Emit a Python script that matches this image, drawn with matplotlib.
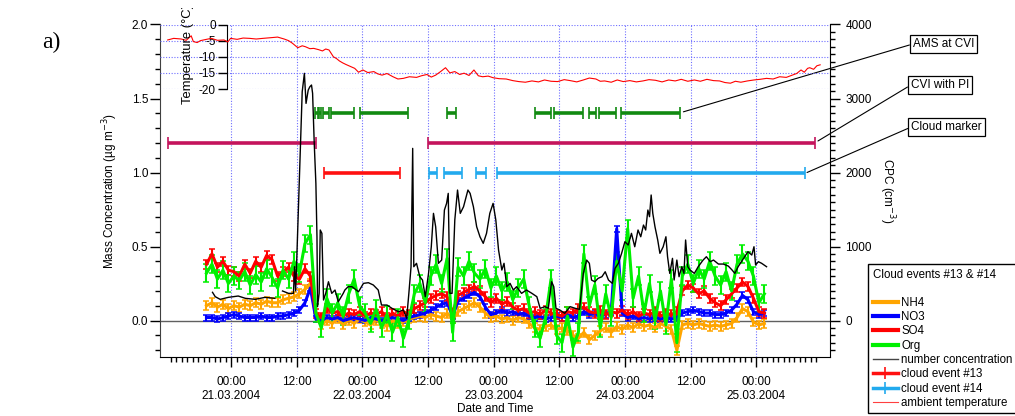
import numpy as np
import pandas as pd
import matplotlib
matplotlib.use("Agg")
import matplotlib.pyplot as plt
import matplotlib.dates as mdates
from matplotlib.lines import Line2D
from matplotlib.ticker import FixedLocator, MultipleLocator, FuncFormatter
from matplotlib.transforms import Bbox, TransformedBbox

plt.rcParams['font.family'] = ['Liberation Sans', 'DejaVu Sans']
plt.rcParams['axes.unicode_minus'] = False

# ---------------- data ----------------
T0 = pd.Timestamp('2004-03-21 00:00')      # reference time (hours are counted from here)
ams_first_hour = -4.5                       # first AMS sample (20.03.2004 19:30), hourly samples

org = [0.32, 0.38, 0.28, 0.34, 0.25, 0.30, 0.27, 0.33, 0.24, 0.31,
       0.26, 0.35, 0.29, 0.22, 0.34, 0.28, 0.40, 0.32, 0.52, 0.58,
       0.05, -0.05, 0.15, 0.05, 0.12, 0.03, 0.18, 0.28, 0.10, 0.05,
       -0.02, 0.08, -0.05, 0.04, -0.08, 0.02, -0.12, 0.00, 0.18, 0.25,
       0.12, 0.30, 0.38, 0.25, 0.42, -0.08, 0.36, 0.30, 0.40, 0.32,
       0.28, 0.35, 0.22, 0.30, 0.20, 0.26, 0.14, 0.22, 0.28, 0.10,
       -0.05, -0.12, 0.02, 0.28, -0.10, -0.15, 0.03, -0.18, -0.08, 0.45,
       0.10, 0.24, -0.05, 0.18, 0.02, 0.40, 0.20, 0.62, 0.15, 0.30,
       0.05, 0.25, 0.00, 0.20, -0.03, 0.28, -0.15, 0.30, 0.38, 0.25,
       0.35, 0.28, 0.40, 0.30, 0.24, 0.33, 0.20, 0.38, 0.45, 0.40,
       0.30, 0.12, 0.18]
so4 = [0.38, 0.45, 0.36, 0.40, 0.34, 0.33, 0.30, 0.38, 0.32, 0.40,
       0.36, 0.44, 0.41, 0.30, 0.33, 0.36, 0.30, 0.28, 0.35, 0.30,
       0.05, 0.02, 0.08, 0.05, 0.06, 0.03, 0.05, 0.04, 0.06, 0.03,
       0.05, 0.04, 0.06, 0.02, 0.05, 0.03, 0.06, 0.04, 0.08, 0.10,
       0.12, 0.15, 0.17, 0.18, 0.16, 0.05, 0.17, 0.19, 0.21, 0.23,
       0.20, 0.16, 0.12, 0.15, 0.11, 0.13, 0.09, 0.07, 0.08, 0.05,
       0.06, 0.04, 0.07, 0.05, 0.04, 0.03, 0.06, 0.05, 0.08, 0.09,
       0.06, 0.05, 0.07, 0.04, 0.06, 0.05, 0.07, 0.04, 0.06, 0.03,
       0.05, 0.04, 0.06, 0.03, 0.05, 0.04, 0.06, 0.20, 0.24, 0.22,
       0.18, 0.20, 0.15, 0.12, 0.10, 0.14, 0.18, 0.22, 0.26, 0.23,
       0.15, 0.06, 0.05]
nh4 = [0.10, 0.12, 0.09, 0.11, 0.08, 0.10, 0.09, 0.11, 0.10, 0.12,
       0.11, 0.13, 0.12, 0.12, 0.14, 0.15, 0.16, 0.18, 0.21, 0.25,
       0.02, -0.03, 0.00, -0.02, 0.01, -0.03, 0.00, -0.02, 0.01, -0.01,
       -0.03, 0.00, -0.02, -0.04, 0.00, -0.02, -0.01, 0.01, 0.02, 0.03,
       0.02, 0.04, 0.03, 0.02, 0.05, 0.01, 0.06, 0.08, 0.10, 0.12,
       0.09, 0.05, 0.02, 0.03, 0.01, 0.02, 0.00, 0.02, 0.01, -0.02,
       -0.05, -0.06, -0.04, -0.03, -0.06, -0.05, -0.07, -0.10, -0.12, -0.08,
       -0.13, -0.10, -0.07, -0.05, -0.08, -0.04, -0.06, -0.03, -0.05, -0.02,
       -0.04, -0.03, -0.05, -0.02, -0.04, -0.06, -0.20, -0.03, -0.02, -0.03,
       -0.02, -0.03, -0.04, -0.03, -0.04, -0.03, -0.02, 0.02, 0.08, 0.06,
       -0.01, -0.03, -0.02]
no3 = [0.02, 0.02, 0.01, 0.02, 0.03, 0.04, 0.03, 0.02, 0.02, 0.02,
       0.03, 0.02, 0.02, 0.03, 0.03, 0.04, 0.05, 0.07, 0.12, 0.22,
       0.01, 0.00, 0.02, 0.01, 0.02, 0.00, 0.01, 0.02, 0.01, 0.00,
       0.02, 0.01, 0.00, 0.01, 0.02, 0.01, 0.00, 0.02, 0.03, 0.04,
       0.05, 0.07, 0.09, 0.11, 0.12, 0.03, 0.13, 0.15, 0.17, 0.19,
       0.16, 0.09, 0.04, 0.05, 0.07, 0.05, 0.06, 0.04, 0.05, 0.03,
       0.02, 0.03, 0.01, 0.02, 0.03, 0.02, 0.04, 0.02, 0.03, 0.06,
       0.04, 0.05, 0.03, 0.04, 0.06, 0.62, 0.05, 0.02, 0.03, 0.01,
       0.02, 0.01, 0.02, 0.01, 0.02, 0.01, 0.02, 0.05, 0.06, 0.07,
       0.06, 0.05, 0.05, 0.04, 0.04, 0.05, 0.07, 0.11, 0.17, 0.14,
       0.06, 0.04, 0.05]
err_org, err_so4, err_nh4, err_no3 = 0.06, 0.03, 0.03, 0.02

cpc_hours = [-3.4, -2.9, -2.0, -0.5, 1.3, 2.6, 4.4, 6.2, 8.0, 8.7, 9.4, 10.5, 11.4, 11.6,
             11.8, 12.0, 12.6, 13.0, 13.4, 13.7, 14.1, 14.4, 14.7, 14.9, 15.2, 15.5, 15.7,
             15.8, 16.1, 16.3, 16.6, 16.9, 17.3, 17.8, 18.4, 19.0, 19.6, 20.5, 20.8, 21.4,
             22.1, 23.3, 24.2, 25.1, 26.0, 26.9, 27.5, 28.5, 29.4, 30.6, 31.5, 32.1, 32.5,
             32.9, 33.2, 33.4, 33.9, 34.5, 35.0, 35.5, 36.1, 36.6, 37.0, 37.4, 37.9, 38.5,
             39.0, 39.4, 39.7, 40.0, 40.4, 40.9, 41.4, 41.9, 42.5, 43.3, 43.7, 44.3, 44.9,
             45.5, 46.1, 46.7, 47.3, 47.9, 48.4, 48.9, 49.5, 49.9, 50.4, 51.0, 51.6, 52.2,
             53.1, 54.0, 55.0, 55.9, 56.5, 57.4, 58.0, 58.6, 59.0, 59.4, 60.1, 61.0, 62.0,
             62.9, 63.7, 64.4, 65.0, 65.5, 65.9, 66.5, 67.1, 67.8, 68.4, 69.0, 69.7, 70.2,
             70.8, 71.4, 72.0, 72.6, 73.2, 73.8, 74.4, 74.9, 75.4, 75.8, 76.2, 76.5, 76.8,
             77.1, 77.5, 78.0, 78.4, 79.0, 79.5, 79.8, 80.2, 80.7, 81.0, 81.5, 81.9, 82.4,
             82.8, 83.1, 83.5, 83.9, 84.7, 85.4, 86.3, 86.9, 87.6, 88.2, 89.1, 90.0, 90.9,
             91.6, 92.1, 92.7, 93.3, 93.9, 94.5, 95.2, 95.6, 95.9, 96.4, 97.0, 97.9]
cpc_values = [381, 322, 286, 313, 331, 300, 286, 313, 300, np.nan, 399, 367, 367, 727,
              400, 817, 2168, 3091, 3340, 2934, 3114, 3159, 3182, 3070, 2394, 1854, 1132,
              187, 367, 1223, 1178, 277, 367, 524, 367, 412, 254, 367, 412, 457,
              457, 389, 502, 511, 480, 412, 209, 209, 165, 119, 142, 30, 367,
              727, 2326, 727, 773, 592, 547, 322, 637, 997, 1448, 1267, 773, 817,
              1493, 1583, 1718, 367, 367, 1358, 1763, 1448, 1538, 1763, 1718, 1538, 1267,
              1132, 1043, 1178, 1448, 1583, 1358, 952, 682, 773, 457, 502, 412, 457,
              367, 412, 367, 322, 165, 187, 165, 524, 457, 165, 142, 97, 187,
              165, 151, 637, 817, 773, 547, 524, 570, 592, 659, 547, 502, 705,
              773, 908, 1065, 1020, 1178, 997, 1223, 1132, 1290, 1223, 1493, 1403, 1696,
              1448, 1267, 1088, 908, 997, 1132, 862, 637, 840, 547, 817, 592, 727,
              637, 1088, 727, 682, 637, 727, 817, 862, 795, 817, 763, 763, 736,
              682, 637, 727, 795, 862, 930, 885, 997, 750, 795, 773, 727]

temp_hours = [-11.6, -10.5, -9.1, -8.2, -7.3, -6.9, -6.2, -5.6, -4.5, -3.6, -2.5, -1.3, -0.6,
              -0.1, 1.1, 2.2, 3.4, 4.6, 5.8, 7.2, 8.5, 9.7, 10.5, 11.2, 12.2, 13.0, 13.6,
              14.4, 15.1, 16.0, 16.7, 17.3, 17.9, 18.7, 19.3, 19.8, 20.4, 21.0, 21.8, 22.6,
              23.3, 24.1, 25.0, 26.1, 26.8, 27.6, 28.5, 29.6, 30.5, 31.5, 32.6, 33.9, 34.8,
              35.8, 36.6, 37.4, 38.3, 39.2, 40.0, 40.9, 41.8, 42.6, 43.5, 44.4, 45.2, 46.0,
              47.0, 47.9, 49.0, 50.3, 51.5, 52.6, 53.8, 55.0, 56.2, 57.3, 58.5, 59.7, 60.9,
              62.0, 63.2, 64.4, 65.5, 66.7, 67.5, 68.3, 69.5, 70.6, 71.7, 72.9, 74.1, 75.3,
              76.4, 77.6, 78.8, 80.0, 81.2, 82.3, 83.5, 84.7, 85.8, 87.0, 88.2, 89.3, 90.3,
              91.3, 92.2, 93.2, 94.4, 95.6, 96.7, 97.9, 99.1, 100.3, 101.5, 102.6, 103.4,
              104.2, 104.8, 105.4, 105.8, 106.5, 107.1, 107.7]
temp_values = [-4.8, -4.3, -4.5, -4.9, -3.5, -5.3, -5.6, -5.0, -4.6, -4.3, -4.9, -4.8, -5.4,
               -4.3, -4.6, -4.2, -4.3, -4.5, -4.3, -4.1, -3.9, -4.5, -5.0, -5.8, -7.2, -6.6, -6.9,
               -7.5, -7.4, -7.8, -8.2, -7.6, -7.9, -10.0, -10.6, -11.3, -11.9, -12.4, -13.0, -13.6,
               -14.8, -14.1, -14.9, -14.6, -15.3, -15.7, -15.2, -16.2, -16.9, -16.7, -16.2, -16.4, -15.9,
               -15.5, -16.3, -15.7, -14.6, -13.4, -15.0, -14.6, -15.5, -15.1, -15.8, -14.1, -15.9, -16.2,
               -16.0, -16.5, -16.8, -16.9, -17.4, -17.7, -17.9, -17.5, -17.8, -17.2, -17.6, -17.7, -17.1,
               -17.4, -17.8, -17.2, -16.6, -16.9, -17.6, -17.5, -17.9, -17.2, -17.7, -17.4, -17.8, -17.5,
               -17.1, -17.3, -17.8, -17.2, -17.5, -17.0, -17.6, -17.2, -17.6, -17.0, -17.4, -17.5, -18.0,
               -18.2, -17.6, -17.9, -17.5, -17.2, -17.0, -16.7, -16.9, -16.2, -16.4, -15.7, -15.2,
               -14.1, -14.8, -13.6, -13.4, -13.9, -12.8, -12.5]

# periods (start hour, end hour) and the level at which they are marked
ams_cvi_periods = [(15.3, 15.8), (16.1, 16.5), (16.8, 17.9), (18.3, 22.4), (23.6, 32.3),
                   (39.5, 41.1), (55.6, 58.5), (59.0, 64.3), (65.4, 66.7), (67.3, 70.4),
                   (71.2, 82.1)]
ams_cvi_level = 1.4
cvi_pi_periods = [(-11.5, 15.5), (36.0, 106.7)]
cvi_pi_level = 1.2
event13_periods = [(17.05, 30.9)]
event14_periods = [(36.2, 37.65), (39.0, 42.3), (44.8, 46.6), (48.6, 104.9)]
cloud_level = 1.0

tick_hours_major = [0, 12, 24, 36, 48, 60, 72, 84, 96]
xlim_hours = (-13.0, 109.5)

# ---------------- helpers ----------------
base = mdates.date2num(T0)
def hnum(h):
    return base + np.asarray(h, dtype=float) / 24.0

W, H = 1015, 416
def fx(px):
    return px / W
def fy(py):
    return 1 - py / H

c_nh4, c_no3, c_so4, c_org = '#FFA500', '#0000FF', '#FF0000', '#00F000'
c_cvi, c_pi, c_ev13, c_ev14 = '#118A11', '#C4145C', '#FF1010', '#22AAEE'
grid_kw = dict(color='#6F6FFF', linestyle=(0, (1, 1.5)), linewidth=0.8)

fig = plt.figure(figsize=(W / 100, H / 100), dpi=100)
ax = fig.add_axes([fx(160), fy(357), fx(830) - fx(160), fy(24.5) - fy(357)])
ax.set_xlim(hnum(xlim_hours[0]), hnum(xlim_hours[1]))
ax.set_ylim(-0.2466, 2.0)

# zero line
ax.axhline(0, color='#606060', lw=1.0, zorder=1.2)

t_ams = hnum(ams_first_hour + np.arange(len(org)))
for vals, err, col in [(nh4, err_nh4, c_nh4), (no3, err_no3, c_no3),
                       (so4, err_so4, c_so4), (org, err_org, c_org)]:
    ax.errorbar(t_ams, vals, yerr=err, color=col, lw=2.2, elinewidth=1.5,
                capsize=2.4, capthick=1.1, zorder=2)

def draw_periods(periods, level, color):
    s = hnum([a for a, b in periods])
    e = hnum([b for a, b in periods])
    ax.errorbar((s + e) / 2, np.full(len(s), level), xerr=(e - s) / 2, fmt='none',
                ecolor=color, elinewidth=2.6, capsize=4, capthick=1.2, zorder=3)

draw_periods(ams_cvi_periods, ams_cvi_level, c_cvi)
draw_periods(cvi_pi_periods, cvi_pi_level, c_pi)
draw_periods(event13_periods, cloud_level, c_ev13)
draw_periods(event14_periods, cloud_level, c_ev14)

# axes styling
for s in ['top', 'right']:
    ax.spines[s].set_visible(False)
ax.spines['left'].set_color('#404040')
ax.yaxis.set_major_locator(MultipleLocator(0.5))
ax.yaxis.set_minor_locator(MultipleLocator(0.1))
ax.yaxis.set_major_formatter(FuncFormatter(lambda v, p: f'{v:.1f}'))
ax.tick_params(axis='y', which='major', length=7, width=1, pad=1.5, labelsize=8.5)
ax.tick_params(axis='y', which='minor', length=3.5, width=1)

ax.xaxis.set_major_locator(FixedLocator(hnum(tick_hours_major)))
ax.xaxis.set_minor_locator(FixedLocator(hnum(np.arange(-11, 108, 1))))
def xfmt(v, pos):
    d = pd.Timestamp(mdates.num2date(v)).round('min')
    if d.hour == 0:
        return d.strftime('%H:%M\n%d.%m.%Y')
    return d.strftime('%H:%M')
ax.xaxis.set_major_formatter(FuncFormatter(xfmt))
ax.tick_params(axis='x', which='major', length=7, width=1, pad=6.5, labelsize=8.5)
ax.tick_params(axis='x', which='minor', length=3.5, width=1)
ax.grid(axis='x', which='major', **grid_kw)
ax.set_axisbelow(True)

ax.set_ylabel('Mass Concentration (µg m$^{-3}$)', fontsize=8.5, va='center', ha='center')
ax.yaxis.set_label_coords((110 - 160) / 670, 0.5)
ax.set_xlabel('Date and Time', fontsize=8.5, va='center')
ax.xaxis.set_label_coords(0.5, (357 - 409) / 332.5)

# CPC axis
ax2 = ax.twinx()
ax2.set_ylim(-493, 4000)
ax2.plot(hnum(cpc_hours), cpc_values, color='black', lw=1.0, zorder=4)
for s in ['top', 'left', 'bottom']:
    ax2.spines[s].set_visible(False)
ax2.yaxis.set_major_locator(MultipleLocator(1000))
ax2.yaxis.set_minor_locator(MultipleLocator(100))
ax2.tick_params(axis='y', which='major', length=7, width=1, pad=4, labelsize=8.5)
ax2.tick_params(axis='y', which='minor', length=3.5, width=1)
ax2.set_ylabel('CPC (cm$^{-3}$)', fontsize=8.5, rotation=270, va='center', ha='center')
ax2.yaxis.set_label_coords((887 - 160) / 670, 0.5)

# temperature axis (top band)
axt = fig.add_axes([fx(160), fy(89), fx(830) - fx(160), fy(24.5) - fy(89)])
axt.patch.set_visible(False)
axt.set_xlim(hnum(xlim_hours[0]), hnum(xlim_hours[1]))
axt.set_ylim(-20, 0)
axt.plot(hnum(temp_hours), temp_values, color='#FF0000', lw=0.8, zorder=3)
for s in ['top', 'right', 'bottom']:
    axt.spines[s].set_visible(False)
axt.spines['left'].set_position(('axes', (227 - 160) / 670))
axt.xaxis.set_visible(False)
axt.set_yticks([0, -5, -10, -15, -20])
axt.tick_params(axis='y', which='major', length=6.5, width=1, pad=1.5, labelsize=8.5)
axt.grid(axis='y', **grid_kw)
tlab = fig.text(fx(188), fy(103.5), 'Temperature (°C)', rotation=90, ha='center', va='bottom',
                fontsize=9.4)
tlab.set_clip_box(TransformedBbox(Bbox([[fx(170), fy(120)], [fx(210), fy(8)]]),
                                  fig.transFigure))
tlab.set_clip_on(True)

# annotation boxes
box_kw = dict(boxstyle='square,pad=0.25', fc='white', ec='black', lw=0.9)
arr_kw = dict(arrowstyle='-', color='black', lw=0.8, relpos=(0, 0.5), shrinkA=0, shrinkB=0)
for label, (hx, yv), (px, py) in [('AMS at CVI', (82.7, 1.41), (943.5, 44)),
                                  ('CVI with PI', (107.3, 1.213), (940, 85)),
                                  ('Cloud marker', (105.3, 1.0), (946.5, 127))]:
    ax.annotate(label, xy=(hnum(hx), yv), xytext=(fx(px), fy(py)),
                textcoords='figure fraction', ha='center', va='center', fontsize=8.5,
                bbox=box_kw, arrowprops=arr_kw, annotation_clip=False, zorder=10)

# legend
handles = [Line2D([], [], color=c_nh4, lw=3), Line2D([], [], color=c_no3, lw=3),
           Line2D([], [], color=c_so4, lw=3), Line2D([], [], color=c_org, lw=3),
           Line2D([], [], color='#444444', lw=1),
           Line2D([], [], color=c_ev13, lw=2.5, marker='|', ms=8, mew=1.2),
           Line2D([], [], color=c_ev14, lw=2.5, marker='|', ms=8, mew=1.2),
           Line2D([], [], color='#FF4040', lw=0.8)]
labels = ['NH4', 'NO3', 'SO4', 'Org', 'number concentration', 'cloud event #13',
          'cloud event #14', 'ambient temperature']
leg = fig.legend(handles, labels, title='Cloud events #13 & #14\n', loc='upper left',
                 bbox_to_anchor=(fx(868), fy(264)), frameon=True, fancybox=False,
                 edgecolor='black', framealpha=1, fontsize=8.3, title_fontsize=8.3,
                 alignment='left', borderpad=0.4, labelspacing=0.2, handlelength=2.2,
                 handletextpad=0.3, borderaxespad=0)
leg.get_frame().set_linewidth(1.0)

fig.text(fx(51), fy(42), 'a)', fontsize=17, family=['Liberation Serif', 'DejaVu Serif'],
         ha='center', va='center')

fig.savefig('out.png', dpi=100)
